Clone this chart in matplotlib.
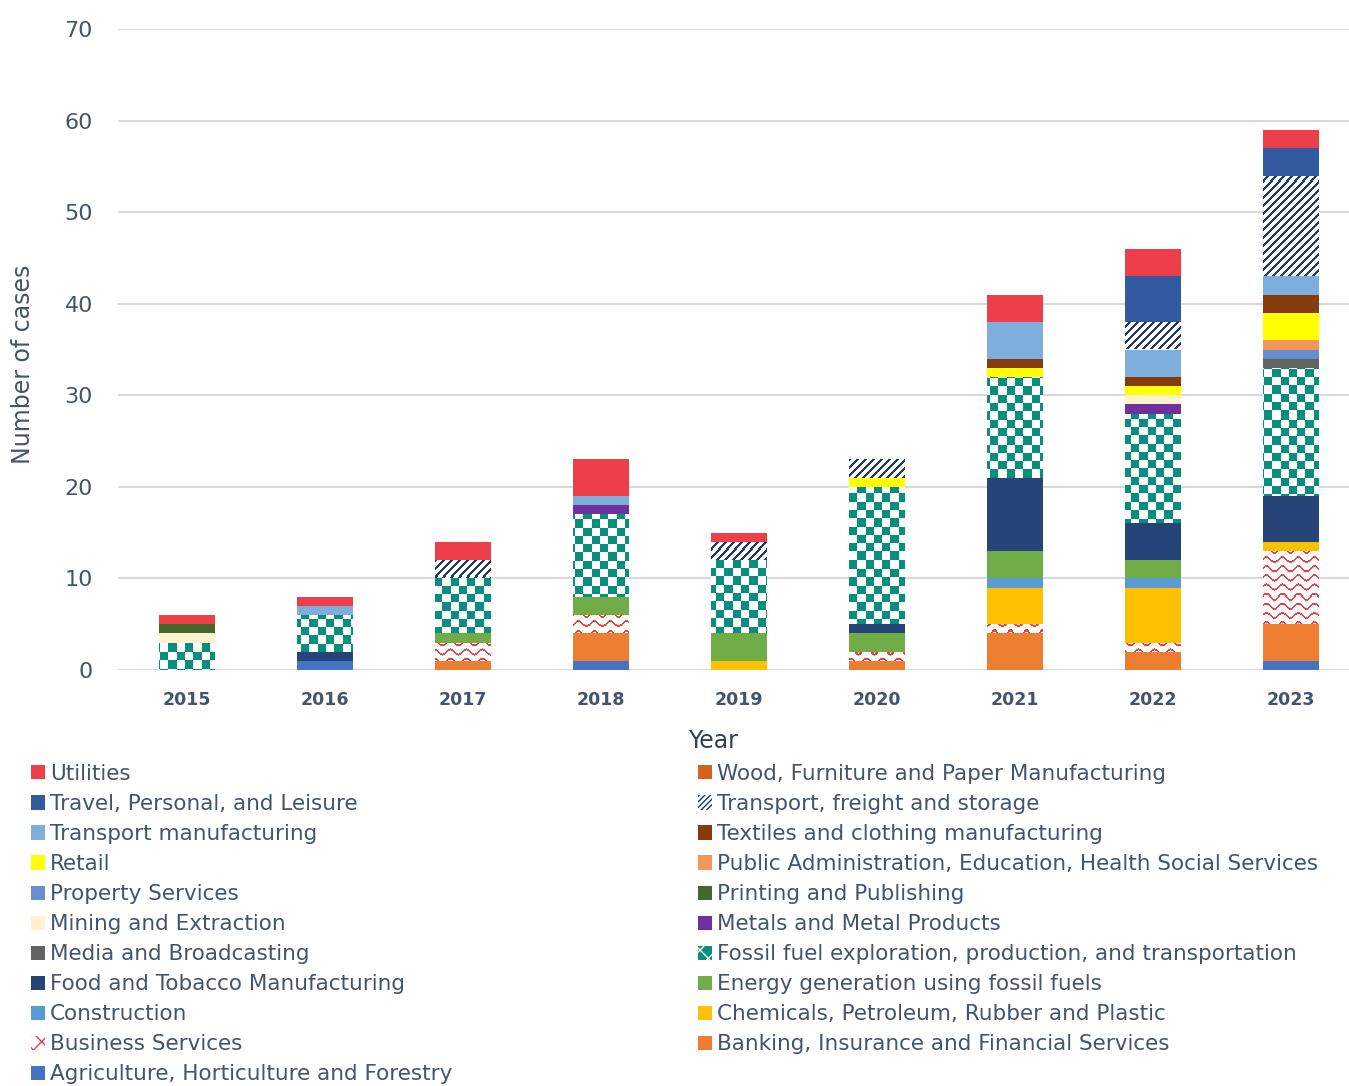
import numpy as np
import matplotlib
matplotlib.use('Agg')
import matplotlib.pyplot as plt
from matplotlib.patches import Patch

plt.rcParams['font.family'] = ['DejaVu Sans']

years = ['2015', '2016', '2017', '2018', '2019', '2020', '2021', '2022', '2023']

# cases per sector per year, stacked bottom -> top
agriculture = [0, 1, 0, 1, 0, 0, 0, 0, 1]
banking = [0, 0, 1, 3, 0, 1, 4, 2, 4]
business = [0, 0, 2, 2, 0, 1, 1, 1, 8]
chemicals = [0, 0, 0, 0, 1, 0, 4, 6, 1]
construction = [0, 0, 0, 0, 0, 0, 1, 1, 0]
energy = [0, 0, 1, 2, 3, 2, 3, 2, 0]
food = [0, 1, 0, 0, 0, 1, 8, 4, 5]
fossil = [3, 4, 6, 9, 8, 15, 11, 12, 14]
media = [0, 0, 0, 0, 0, 0, 0, 0, 1]
metals = [0, 0, 0, 1, 0, 0, 0, 1, 0]
mining = [1, 0, 0, 0, 0, 0, 0, 1, 0]
printing = [1, 0, 0, 0, 0, 0, 0, 0, 0]
prop = [0, 0, 0, 0, 0, 0, 0, 0, 1]
public = [0, 0, 0, 0, 0, 0, 0, 0, 1]
retail = [0, 0, 0, 0, 0, 1, 1, 1, 3]
textiles = [0, 0, 0, 0, 0, 0, 1, 1, 2]
transport_manuf = [0, 1, 0, 1, 0, 0, 4, 3, 2]
freight = [0, 0, 2, 0, 2, 2, 0, 3, 11]
travel = [0, 0, 0, 0, 0, 0, 0, 5, 3]
wood = [0, 0, 0, 0, 0, 0, 0, 0, 0]
utilities = [1, 1, 2, 4, 1, 0, 3, 3, 2]

series = [
    ('Agriculture, Horticulture and Forestry', agriculture, '#4472C4', None),
    ('Banking, Insurance and Financial Services', banking, '#ED7D31', None),
    ('Business Services', business, '#EE3E4A', 'wave'),
    ('Chemicals, Petroleum, Rubber and Plastic', chemicals, '#FFC000', None),
    ('Construction', construction, '#5B9BD5', None),
    ('Energy generation using fossil fuels', energy, '#70AD47', None),
    ('Food and Tobacco Manufacturing', food, '#264478', None),
    ('Fossil fuel exploration, production, and transportation', fossil, '#088E7C', 'checker'),
    ('Media and Broadcasting', media, '#646464', None),
    ('Metals and Metal Products', metals, '#7030A0', None),
    ('Mining and Extraction', mining, '#FFF2CC', None),
    ('Printing and Publishing', printing, '#43682B', None),
    ('Property Services', prop, '#698ED0', None),
    ('Public Administration, Education, Health Social Services', public, '#F1975A', None),
    ('Retail', retail, '#FFFF00', None),
    ('Textiles and clothing manufacturing', textiles, '#843C0C', None),
    ('Transport manufacturing', transport_manuf, '#7FAEDC', None),
    ('Transport, freight and storage', freight, '#1F3864', 'diag'),
    ('Travel, Personal, and Leisure', travel, '#335AA0', None),
    ('Wood, Furniture and Paper Manufacturing', wood, '#D5621A', None),
    ('Utilities', utilities, '#EE3E4A', None),
]

txt = '#44546A'
W, H = 1349, 1086
fig = plt.figure(figsize=(W / 100, H / 100), dpi=100)
ax_l, ax_r, ax_t, ax_b = 118, 1349, 29, 670
ax = fig.add_axes([ax_l / W, 1 - ax_b / H, (ax_r - ax_l) / W, (ax_b - ax_t) / H])

x = np.arange(len(years))
xlim = (-0.5, 8.42)
ylim = (0, 70)

# pixel textures for the patterned series
pw, ph = ax_r - ax_l, ax_b - ax_t
yy, xx = np.mgrid[0:ph, 0:pw]


def texture(mask, color):
    img = np.ones((ph, pw, 4))
    rgb = matplotlib.colors.to_rgb(color)
    for k in range(3):
        img[..., k] = np.where(mask, rgb[k], 1.0)
    return img


tex = {
    'checker': texture(((xx // 8.3).astype(int) + (yy // 8.3).astype(int)) % 2 == 0, '#088E7C'),
    'wave': texture(np.mod(yy - 2.6 * np.sin(2 * np.pi * xx / 16.0), 9.14) < 2.0, '#EE3E4A'),
    'diag': texture(np.mod(xx + yy, 8) < 2.6, '#1F3864'),
}

bottom = np.zeros(len(years))
handles = {}
for name, vals, col, pat in series:
    vals = np.array(vals, dtype=float)
    bars = ax.bar(x, vals, bottom=bottom, width=0.4,
                  color='white' if pat else col, linewidth=0, zorder=2)
    if pat:
        for b, v in zip(bars, vals):
            if v == 0:
                continue
            im = ax.imshow(tex[pat], extent=(xlim[0], xlim[1], ylim[0], ylim[1]),
                           aspect='auto', interpolation='nearest', origin='upper', zorder=3)
            im.set_clip_path(b)
    bottom += vals
    if pat == 'checker':
        handles[name] = Patch(facecolor=col, edgecolor='white', hatch='xx', linewidth=0)
    elif pat == 'wave':
        handles[name] = Patch(facecolor='white', edgecolor=col, hatch='xx', linewidth=0)
    elif pat == 'diag':
        handles[name] = Patch(facecolor='white', edgecolor=col, hatch='//////', linewidth=0)
    else:
        handles[name] = Patch(facecolor=col, linewidth=0)

ax.set_xlim(*xlim)
ax.set_ylim(*ylim)
ax.set_yticks(range(0, 71, 10))
ax.set_xticks(x)
ax.set_xticklabels(years, fontsize=12.5, fontweight='bold', color=txt)
ax.tick_params(axis='y', length=0, pad=18, labelsize=16, labelcolor=txt)
ax.tick_params(axis='x', length=0, pad=15)
ax.grid(axis='y', color='#D9D9D9', linewidth=1.5, zorder=0)
ax.set_axisbelow(True)
for s in ax.spines.values():
    s.set_visible(False)

fig.text(23 / W, 1 - 364 / H, 'Number of cases', rotation=90, ha='center', va='center',
         fontsize=17, color=txt)
fig.text(713 / W, 1 - 741 / H, 'Year', ha='center', va='center', fontsize=17, color='#333F50')

# legend in two columns, read row by row in reverse order
names = [s[0] for s in series][::-1]
col1 = names[0::2]
col2 = names[1::2]
for cols, xpos in [(col1, 31), (col2, 698)]:
    fig.legend([handles[n] for n in cols], cols, loc='upper left',
               bbox_to_anchor=(xpos / W, 1 - 764 / H), frameon=False,
               fontsize=15.5, labelcolor=txt, handlelength=0.63, handleheight=0.63,
               handletextpad=0.25, labelspacing=0.466, borderpad=0, borderaxespad=0)

fig.savefig('out.png', dpi=100)
